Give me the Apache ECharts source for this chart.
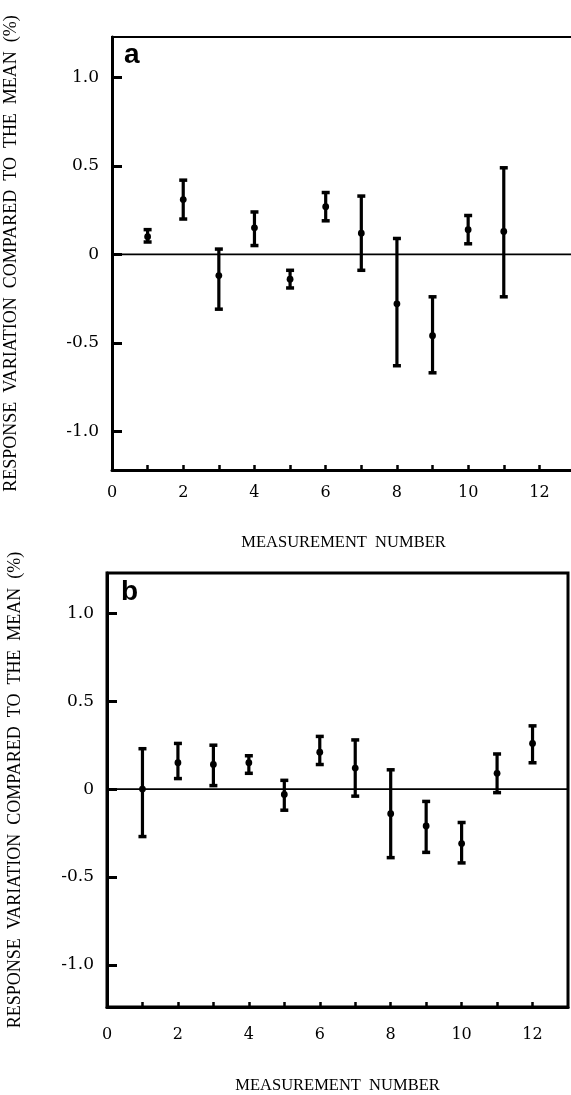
<!DOCTYPE html>
<html>
<head>
<meta charset="utf-8">
<script src="https://cdn.jsdelivr.net/npm/echarts@6/dist/echarts.min.js"></script>
<style>
  html, body { margin: 0; padding: 0; background: #fff; }
  #chart { width: 571px; height: 1095px; }
</style>
</head>
<body>
<div id="chart"></div>
<script>
// panel a
const measA = [1, 2, 3, 4, 5, 6, 7, 8, 9, 10, 11];
const meanA = [0.10, 0.31, -0.12, 0.15, -0.14, 0.27, 0.12, -0.28, -0.46, 0.14, 0.13];
const lowA  = [0.07, 0.20, -0.31, 0.05, -0.19, 0.19, -0.09, -0.63, -0.67, 0.06, -0.24];
const highA = [0.14, 0.42, 0.03, 0.24, -0.09, 0.35, 0.33, 0.09, -0.24, 0.22, 0.49];

// panel b
const measB = [1, 2, 3, 4, 5, 6, 7, 8, 9, 10, 11, 12];
const meanB = [0.00, 0.15, 0.14, 0.15, -0.03, 0.21, 0.12, -0.14, -0.21, -0.31, 0.09, 0.26];
const lowB  = [-0.27, 0.06, 0.02, 0.09, -0.12, 0.14, -0.04, -0.39, -0.36, -0.42, -0.02, 0.15];
const highB = [0.23, 0.26, 0.25, 0.19, 0.05, 0.30, 0.28, 0.11, -0.07, -0.19, 0.20, 0.36];

// ticks and labels
const xTicks = [1, 2, 3, 4, 5, 6, 7, 8, 9, 10, 11, 12];
const xLabels = [0, 2, 4, 6, 8, 10, 12];
const yTicks = [-1, -0.5, 0, 0.5, 1];

const SERIF = '"Liberation Serif", "DejaVu Serif", serif';
const DIGITS = '"DejaVu Serif", serif';
const Y_NAME = 'RESPONSE  VARIATION  COMPARED  TO  THE  MEAN  (%)';
const X_NAME = 'MEASUREMENT  NUMBER';

const chart = echarts.init(document.getElementById('chart'), null, { renderer: 'canvas' });

function rows(meas, low, mean, high) {
    return meas.map((m, i) => [m, low[i], mean[i], high[i]]);
}

// vertical bar with caps and a dot at the mean
function errorBar(params, api) {
    const x = api.value(0);
    const pLo = api.coord([x, api.value(1)]);
    const pMid = api.coord([x, api.value(2)]);
    const pHi = api.coord([x, api.value(3)]);
    const stroke = { stroke: '#000', lineWidth: 3.2 };
    const cap = { stroke: '#000', lineWidth: 3.5 };
    return {
        type: 'group',
        children: [
            { type: 'line', shape: { x1: pLo[0], y1: pLo[1], x2: pHi[0], y2: pHi[1] }, style: stroke },
            { type: 'line', shape: { x1: pHi[0] - 4, y1: pHi[1], x2: pHi[0] + 4, y2: pHi[1] }, style: cap },
            { type: 'line', shape: { x1: pLo[0] - 4, y1: pLo[1], x2: pLo[0] + 4, y2: pLo[1] }, style: cap },
            { type: 'circle', shape: { cx: pMid[0], cy: pMid[1], r: 3.4 }, style: { fill: '#000' } },
        ],
    };
}

function xAxis(idx, nameGap, labelMargin) {
    return {
        gridIndex: idx,
        type: 'value',
        min: 0,
        max: 13,
        splitLine: { show: false },
        axisLine: { show: true, onZero: false, lineStyle: { color: '#000', width: 3 } },
        axisTick: { show: true, inside: true, length: 5, customValues: xTicks, lineStyle: { color: '#000', width: 2.5 } },
        axisLabel: { customValues: xLabels, margin: labelMargin, color: '#000', fontFamily: DIGITS, fontSize: 16 },
        name: X_NAME,
        nameLocation: 'middle',
        nameGap: nameGap,
        nameTextStyle: { color: '#000', fontFamily: SERIF, fontSize: 16.5 },
    };
}

function yAxis(idx, min, max, nameGap) {
    return {
        gridIndex: idx,
        type: 'value',
        min: min,
        max: max,
        splitLine: { show: false },
        axisLine: { show: true, onZero: false, lineStyle: { color: '#000', width: 3 } },
        axisTick: { show: true, inside: true, length: 10, customValues: yTicks, lineStyle: { color: '#000', width: 3 } },
        axisLabel: {
            customValues: yTicks,
            margin: 13,
            color: '#000',
            fontFamily: DIGITS,
            fontSize: 17,
            formatter: (v) => (v === 0 ? '0' : v.toFixed(1)),
        },
        name: Y_NAME,
        nameLocation: 'middle',
        nameGap: nameGap,
        nameTextStyle: { color: '#000', fontFamily: SERIF, fontSize: 18 },
    };
}

function zeroLine(idx) {
    return {
        type: 'line',
        xAxisIndex: idx,
        yAxisIndex: idx,
        data: [[0, 0], [13, 0]],
        symbol: 'none',
        silent: true,
        lineStyle: { color: '#000', width: 1.6 },
        z: 1,
    };
}

function bars(idx, data) {
    return {
        type: 'custom',
        xAxisIndex: idx,
        yAxisIndex: idx,
        data: data,
        encode: { x: 0, y: [1, 2, 3] },
        renderItem: errorBar,
        z: 3,
    };
}

chart.setOption({
    animation: false,
    backgroundColor: '#fff',
    grid: [
        { left: 112, top: 37, width: 463, height: 433, outerBoundsMode: 'none', show: true, borderColor: '#000', borderWidth: 2 },
        { left: 107, top: 573, width: 461, height: 434, outerBoundsMode: 'none', show: true, borderColor: '#000', borderWidth: 3 },
    ],
    xAxis: [xAxis(0, 64, 15), xAxis(1, 70, 20)],
    yAxis: [yAxis(0, -1.22, 1.23, 92), yAxis(1, -1.24, 1.23, 83)],
    graphic: [
        { type: 'text', left: 124, top: 41, style: { text: 'a', font: 'bold 28px "Liberation Sans", Arial, sans-serif', fill: '#000' } },
        { type: 'text', left: 121, top: 578, style: { text: 'b', font: 'bold 28px "Liberation Sans", Arial, sans-serif', fill: '#000' } },
    ],
    series: [
        zeroLine(0),
        bars(0, rows(measA, lowA, meanA, highA)),
        zeroLine(1),
        bars(1, rows(measB, lowB, meanB, highB)),
    ],
});
</script>
</body>
</html>
